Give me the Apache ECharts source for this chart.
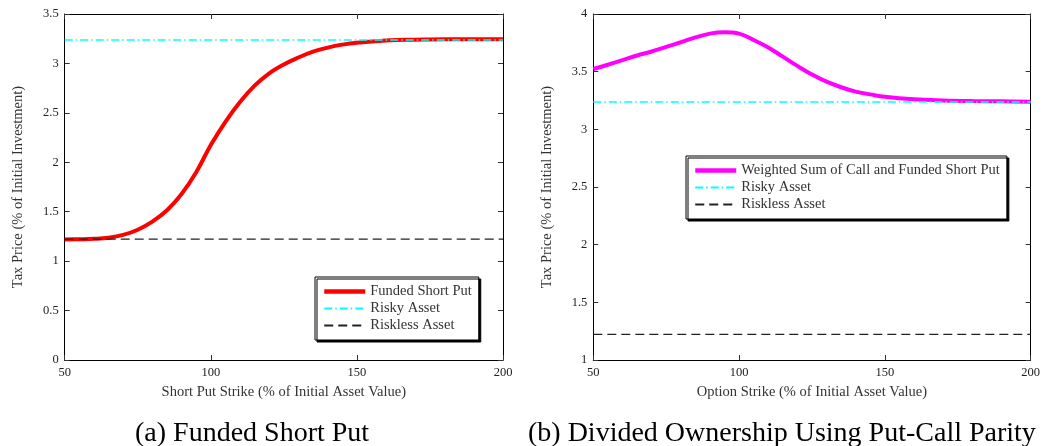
<!DOCTYPE html>
<html>
<head>
<meta charset="utf-8">
<script src="https://cdn.jsdelivr.net/npm/echarts@6/dist/echarts.min.js"></script>
<style>html,body{margin:0;padding:0;background:#fff;}#c{width:1043px;height:446px;}</style>
</head>
<body>
<div id="c"></div>
<script>
// ---- data ----
const strikeA = [50,55,60,65,70,75,80,85,90,95,100,105,110,115,120,125,130,135,140,145,150,160,170,180,190,200];
const fundedShortPut = [1.22,1.222,1.226,1.237,1.265,1.318,1.40,1.515,1.68,1.90,2.175,2.41,2.61,2.775,2.90,2.99,3.06,3.12,3.16,3.19,3.21,3.232,3.24,3.245,3.245,3.245];
const strikeB = [50,55,60,65,70,75,80,85,90,95,100,105,110,115,120,125,130,135,140,145,150,160,170,180,190,200];
const weightedSum = [3.523,3.56,3.60,3.64,3.675,3.715,3.755,3.797,3.83,3.842,3.83,3.775,3.71,3.63,3.55,3.475,3.413,3.365,3.327,3.303,3.282,3.26,3.25,3.245,3.243,3.24];
const flatX = [50,200];
const riskyAsset = [3.237,3.237];
const risklessAsset = [1.222,1.222];
const xTicks = [50,100,150,200];
const yTicksA = [0,0.5,1,1.5,2,2.5,3,3.5];
const yTicksB = [1,1.5,2,2.5,3,3.5,4];
const seriesNamesA = ['Funded Short Put','Risky Asset','Riskless Asset'];
const seriesNamesB = ['Weighted Sum of Call and Funded Short Put','Risky Asset','Riskless Asset'];

const FONT = 'Liberation Serif';
const NAME_SIZE = 14.5;
function pairs(xs, ys){ return xs.map((x,i)=>[x, ys[i]]); }

const chart = echarts.init(document.getElementById('c'));

function xAx(grid, pos){
  return {
    type:'value', gridIndex:grid, position:pos, min:xTicks[0], max:xTicks[xTicks.length-1], interval:50,
    axisLine:{show:true,onZero:false,lineStyle:{color:'#000',width:1}},
    axisTick:{show:true,inside:true,length:5,lineStyle:{color:'#333'}},
    axisLabel:{show:pos==='bottom',color:'#222',fontFamily:FONT,fontSize:12.5,margin:6},
    splitLine:{show:false},
    name: pos==='bottom' ? (grid===0 ? 'Short Put Strike (% of Initial Asset Value)' : 'Option Strike (% of Initial Asset Value)') : '',
    nameLocation:'middle', nameGap:25,
    nameTextStyle:{color:'#333',fontFamily:FONT,fontSize:NAME_SIZE}
  };
}
function yAx(grid, pos, ticks){
  return {
    type:'value', gridIndex:grid, position:pos, min:ticks[0], max:ticks[ticks.length-1], interval:0.5,
    axisLine:{show:true,onZero:false,lineStyle:{color:'#000',width:1}},
    axisTick:{show:true,inside:true,length:5,lineStyle:{color:'#333'}},
    axisLabel:{show:pos==='left',color:'#222',fontFamily:FONT,fontSize:12.5,margin:6},
    splitLine:{show:false},
    name: pos==='left' ? 'Tax Price (% of Initial Investment)' : '',
    nameLocation:'middle', nameGap:39,
    nameTextStyle:{color:'#333',fontFamily:FONT,fontSize:NAME_SIZE}
  };
}

const legendBase = {
  orient:'vertical', itemWidth:41, itemHeight:14, itemGap:2,
  padding:[7,7,7,7], backgroundColor:'#fff', borderColor:'#000', borderWidth:1,
  shadowColor:'#000', shadowOffsetX:2, shadowOffsetY:2, shadowBlur:0,
  selectedMode:false,
  textStyle:{color:'#333',fontFamily:FONT,fontSize:NAME_SIZE,lineHeight:14}
};
function legendItems(names){
  return names.map((n,i)=>({name:n, itemStyle:{opacity:0}, lineStyle: i===0 ? {width:4.5} : {width:2}}));
}

function riskySeries(xi, yi){
  return {name:'Risky Asset', type:'line', xAxisIndex:xi, yAxisIndex:yi, data:pairs(flatX, riskyAsset),
    symbol:'none', silent:true, z:5, lineStyle:{color:'#00ffff',width:1.4,type:[8,3,1.5,3]}, itemStyle:{color:'#00ffff'}};
}
function risklessSeries(xi, yi){
  return {name:'Riskless Asset', type:'line', xAxisIndex:xi, yAxisIndex:yi, data:pairs(flatX, risklessAsset),
    symbol:'none', silent:true, z:5, lineStyle:{color:'#222',width:1.3,type:[9,5]}, itemStyle:{color:'#222'}};
}

chart.setOption({
  animation:false,
  backgroundColor:'#fff',
  grid:[
    {left:64.7, top:14, width:438.3, height:346, containLabel:false},
    {left:593.3, top:14, width:438.7, height:346, containLabel:false}
  ],
  xAxis:[xAx(0,'bottom'), xAx(0,'top'), xAx(1,'bottom'), xAx(1,'top')],
  yAxis:[yAx(0,'left',yTicksA), yAx(0,'right',yTicksA), yAx(1,'left',yTicksB), yAx(1,'right',yTicksB)],
  legend:[
    Object.assign({}, legendBase, {left:315, top:277, data:legendItems(seriesNamesA)}),
    Object.assign({}, legendBase, {left:686, top:156, data:legendItems(seriesNamesB)})
  ],
  series:[
    {name:seriesNamesA[0], type:'line', xAxisIndex:0, yAxisIndex:0, data:pairs(strikeA, fundedShortPut),
      smooth:0.4, symbol:'none', silent:true, z:3, lineStyle:{color:'#ff0000',width:4}, itemStyle:{color:'#ff0000'}},
    riskySeries(0,0),
    risklessSeries(0,0),
    {name:seriesNamesB[0], type:'line', xAxisIndex:2, yAxisIndex:2, data:pairs(strikeB, weightedSum),
      smooth:0.4, symbol:'none', silent:true, z:3, lineStyle:{color:'#ff00ff',width:4}, itemStyle:{color:'#ff00ff'}},
    riskySeries(2,2),
    risklessSeries(2,2)
  ],
  graphic:[
    {type:'text', x:135, y:434, style:{text:'(a) Funded Short Put', fill:'#000', font:'28px "Liberation Serif"', verticalAlign:'middle'}},
    {type:'text', x:528, y:434, style:{text:'(b) Divided Ownership Using Put-Call Parity', fill:'#000', font:'28px "Liberation Serif"', verticalAlign:'middle'}}
  ]
});
</script>
</body>
</html>
